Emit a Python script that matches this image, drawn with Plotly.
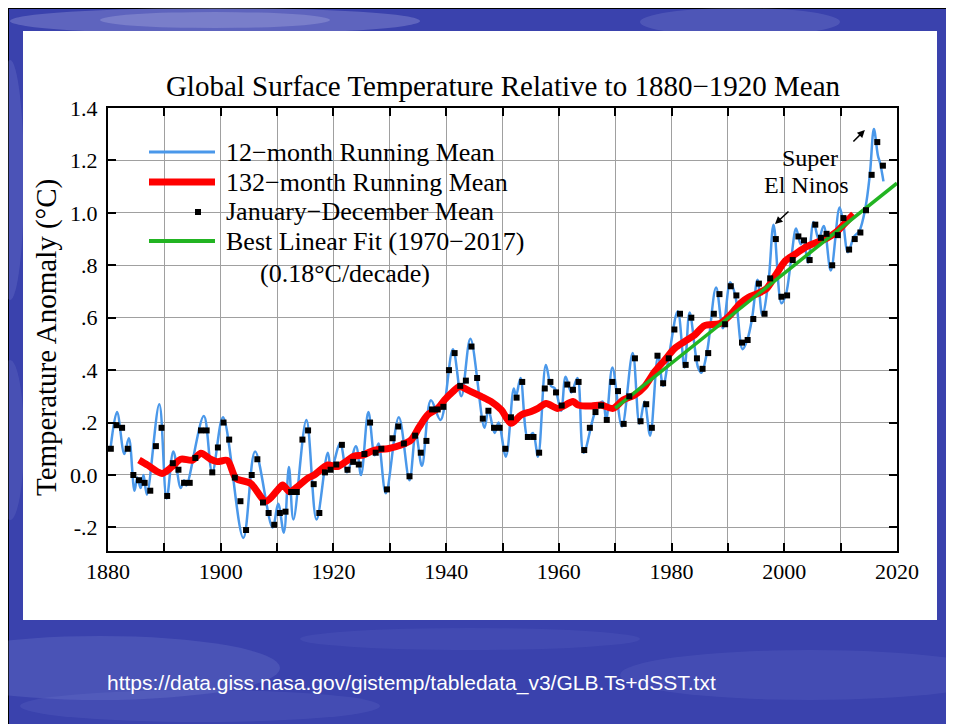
import plotly.graph_objects as go

# ---------------- data ----------------
years = list(range(1880, 2018))
annual_mean = [
    0.10, 0.19, 0.18, 0.10, 0.00, -0.02, -0.03, -0.06, 0.11, 0.18,      # 1880-1889
    -0.08, 0.045, 0.02, -0.03, -0.03, 0.065, 0.17, 0.17, 0.01, 0.105,   # 1890-1899
    0.20, 0.135, -0.01, -0.10, -0.21, 0.00, 0.06, -0.105, -0.145, -0.19,  # 1900-1909
    -0.145, -0.14, -0.065, -0.065, 0.135, 0.17, -0.035, -0.145, 0.01, 0.02,  # 1910-1919
    0.04, 0.115, 0.02, 0.05, 0.04, 0.08, 0.20, 0.085, 0.10, -0.055,     # 1920-1929
    0.14, 0.185, 0.12, -0.005, 0.15, 0.085, 0.13, 0.25, 0.25, 0.26,     # 1930-1939
    0.40, 0.465, 0.34, 0.36, 0.49, 0.37, 0.215, 0.245, 0.18, 0.18,      # 1940-1949
    0.10, 0.22, 0.295, 0.355, 0.145, 0.145, 0.085, 0.33, 0.355, 0.315,  # 1950-1959
    0.265, 0.345, 0.325, 0.355, 0.095, 0.18, 0.24, 0.265, 0.21, 0.355,  # 1960-1969
    0.32, 0.195, 0.30, 0.445, 0.205, 0.27, 0.18, 0.455, 0.35, 0.445,    # 1970-1979
    0.555, 0.615, 0.42, 0.60, 0.445, 0.405, 0.465, 0.615, 0.69, 0.575,  # 1980-1989
    0.72, 0.685, 0.505, 0.515, 0.595, 0.73, 0.615, 0.75, 0.90, 0.68,    # 1990-1999
    0.685, 0.82, 0.91, 0.895, 0.82, 0.955, 0.905, 0.92, 0.80, 0.915,    # 2000-2009
    0.98, 0.86, 0.90, 0.925, 1.01, 1.145, 1.27, 1.18,                   # 2010-2017
]

# 12-month running mean: turning points
run12_t = [
    1880.5, 1881.6, 1882.9, 1883.7, 1884.7, 1885.2, 1885.8, 1886.3, 1886.9, 1889.1,
    1890.4, 1891.6, 1892.9, 1893.5, 1893.9, 1897.0, 1898.5, 1900.4, 1904.0, 1906.1,
    1909.2, 1910.2, 1911.2, 1912.1, 1912.9, 1915.2, 1917.0, 1919.0, 1919.6, 1921.2,
    1922.4, 1924.0, 1924.9, 1926.2, 1927.3, 1928.0, 1929.3, 1931.6, 1933.5, 1934.6,
    1935.7, 1937.3, 1939.0, 1941.2, 1942.7, 1944.3, 1946.8, 1947.5, 1948.6, 1949.3,
    1950.6, 1952.0, 1952.4, 1953.2, 1954.5, 1955.4, 1956.3, 1957.7, 1958.6, 1959.3,
    1960.4, 1961.2, 1962.2, 1963.3, 1964.4, 1966.6, 1967.8, 1968.4, 1969.5, 1971.2,
    1973.1, 1974.3, 1975.2, 1976.2, 1977.6, 1978.5, 1979.5, 1981.1, 1982.3, 1983.2,
    1984.7, 1985.3, 1986.3, 1987.9, 1989.1, 1990.4, 1991.3, 1992.6, 1993.5, 1994.3,
    1995.25, 1996.1, 1997.2, 1998.1, 1999.5, 2000.3, 2001.2, 2002.1, 2002.9, 2003.4,
    2004.2, 2005.2, 2006.1, 2007.0, 2008.25, 2009.8, 2010.4, 2011.3, 2012.4, 2013.3,
    2014.4, 2015.2, 2015.9, 2016.6, 2017.0, 2017.6,
]
run12_v = [
    0.11, 0.24, 0.08, 0.14, -0.06, -0.01, -0.05, 0.00, -0.075, 0.27,
    -0.09, 0.09, -0.05, -0.02, -0.04, 0.225, 0.01, 0.22, -0.24, 0.09,
    -0.20, -0.11, -0.22, 0.03, -0.17, 0.21, -0.17, 0.085, 0.02, 0.12,
    0.01, 0.11, 0.00, 0.24, 0.075, 0.12, -0.07, 0.22, -0.02, 0.16,
    0.035, 0.285, 0.21, 0.48, 0.30, 0.52, 0.18, 0.25, 0.16, 0.20,
    0.07, 0.33, 0.30, 0.37, 0.14, 0.16, 0.07, 0.42, 0.34, 0.33,
    0.245, 0.375, 0.315, 0.37, 0.085, 0.25, 0.28, 0.21, 0.41, 0.185,
    0.465, 0.195, 0.28, 0.15, 0.455, 0.34, 0.45, 0.625, 0.41, 0.62,
    0.41, 0.39, 0.47, 0.715, 0.56, 0.735, 0.685, 0.48, 0.52, 0.60,
    0.745, 0.61, 0.74, 0.955, 0.655, 0.69, 0.82, 0.94, 0.88, 0.90,
    0.81, 0.965, 0.90, 0.95, 0.78, 1.02, 0.97, 0.85, 0.91, 0.93,
    1.02, 1.15, 1.32, 1.22, 1.19, 1.12,
]

# 132-month running mean (red)
run132_t = [
    1885.5, 1887.0, 1889.6, 1891.4, 1892.9, 1895.0, 1896.5, 1898.2, 1899.4, 1901.2,
    1902.7, 1905.3, 1908.0, 1910.1, 1911.0, 1912.2, 1913.6, 1915.4, 1916.6, 1919.0,
    1920.7, 1922.2, 1923.7, 1925.2, 1927.3, 1929.6, 1932.0, 1933.8, 1935.25, 1936.7,
    1938.5, 1939.7, 1941.2, 1942.35, 1944.4, 1946.2, 1948.0, 1949.8, 1951.5, 1953.3,
    1955.1, 1956.3, 1957.75, 1959.8, 1962.5, 1963.4, 1965.75, 1967.5, 1969.6, 1971.4,
    1973.45, 1975.2, 1977.0, 1978.8, 1980.55, 1982.3, 1984.1, 1985.85, 1988.6, 1990.4,
    1992.2, 1993.6, 1995.35, 1996.8, 1998.6, 2000.2, 2001.9, 2003.95, 2005.7, 2007.5,
    2009.3, 2011.05, 2012.3,
]
run132_v = [
    0.057, 0.038, 0.006, 0.032, 0.060, 0.057, 0.083, 0.060, 0.051, 0.055,
    -0.013, -0.032, -0.100, -0.057, -0.038, -0.064, -0.045, -0.013, 0.000, 0.038,
    0.032, 0.051, 0.072, 0.076, 0.095, 0.100, 0.114, 0.134, 0.184, 0.229,
    0.254, 0.286, 0.318, 0.337, 0.318, 0.300, 0.280, 0.248, 0.197, 0.229,
    0.242, 0.254, 0.273, 0.254, 0.280, 0.267, 0.263, 0.267, 0.254, 0.286,
    0.305, 0.337, 0.394, 0.439, 0.483, 0.509, 0.534, 0.570, 0.578, 0.610,
    0.655, 0.677, 0.693, 0.710, 0.767, 0.817, 0.842, 0.871, 0.887, 0.903,
    0.928, 0.967, 0.995,
]

# best linear fit (1970-2017), drawn out to 2020
fit_t = [1970, 2020]
fit_v = [0.255, 1.113]

x_tickvals = list(range(1880, 2021, 10))
x_ticktext = [str(v) if v % 20 == 0 else "" for v in x_tickvals]
y_tickvals = [-0.2, 0.0, 0.2, 0.4, 0.6, 0.8, 1.0, 1.2, 1.4]
y_ticktext = ["-.2", "0.0", ".2", ".4", ".6", ".8", "1.0", "1.2", "1.4"]

legend_labels = ["12\u2212month Running Mean", "132\u2212month Running Mean",
                 "January\u2212December Mean", "Best Linear Fit (1970\u22122017)"]
legend_note = "(0.18\u00b0C/decade)"

# ---------------- styling / geometry ----------------
# The page body has an 8px margin, so the figure is drawn 8px in from the
# window corner; all screen positions below are converted with that offset.
OFF = 8
W, H = 954 - OFF, 724 - OFF
L, R, T, B = 108, 897, 108, 551          # plot area in screen pixels
SERIF = "Liberation Serif, Times New Roman, serif"
BLUE, RED, GREEN = "#4a98ea", "#ff0000", "#22b422"


def px(x):
    return (x - L) / (R - L)


def py(y):
    return (B - y) / (B - T)


fig = go.Figure()
fig.add_trace(go.Scatter(x=run12_t, y=run12_v, mode="lines", name=legend_labels[0],
                         line=dict(color=BLUE, width=2.5, shape="spline", smoothing=1.0)))
fig.add_trace(go.Scatter(x=run132_t, y=run132_v, mode="lines", name=legend_labels[1],
                         line=dict(color=RED, width=7, shape="spline", smoothing=0.8)))
fig.add_trace(go.Scatter(x=fit_t, y=fit_v, mode="lines", name=legend_labels[3],
                         line=dict(color=GREEN, width=3.5)))
fig.add_trace(go.Scatter(x=[y + 0.5 for y in years], y=annual_mean, mode="markers",
                         name=legend_labels[2],
                         marker=dict(symbol="square", size=6, color="black")))

shapes = []
# slide background (blue, black frame at top/left)
shapes.append(dict(type="rect", xref="paper", yref="paper", layer="below",
                   x0=px(OFF), y0=py(OFF), x1=px(990), y1=py(760),
                   fillcolor="#3a42ad", line=dict(color="black", width=2)))
# soft lighter streaks of the textured background
streaks = [
    (10, 8, 420, 34, "rgba(190,190,235,0.28)"),
    (100, 12, 330, 28, "rgba(220,220,245,0.22)"),
    (640, 8, 840, 36, "rgba(170,175,235,0.18)"),
    (-80, 636, 280, 700, "rgba(150,160,230,0.18)"),
    (20, 690, 380, 722, "rgba(140,150,225,0.13)"),
    (620, 650, 1000, 700, "rgba(140,150,225,0.13)"),
    (300, 628, 640, 650, "rgba(140,150,225,0.10)"),
    (-4, 60, 24, 300, "rgba(170,175,235,0.16)"),
    (-4, 360, 24, 520, "rgba(170,175,235,0.13)"),
]
for x0, y0, x1, y1, c in streaks:
    shapes.append(dict(type="circle", xref="paper", yref="paper", layer="below",
                       x0=px(x0), y0=py(y0), x1=px(x1), y1=py(y1),
                       fillcolor=c, line=dict(width=0)))
# white chart panel
shapes.append(dict(type="rect", xref="paper", yref="paper", layer="below",
                   x0=px(23), y0=py(31), x1=px(937), y1=py(620),
                   fillcolor="white", line=dict(width=0)))

# manual legend samples
LX0, LX1 = 149, 215
rows = [152, 182, 212, 241]
shapes.append(dict(type="line", xref="paper", yref="paper", x0=px(LX0), x1=px(LX1),
                   y0=py(rows[0]), y1=py(rows[0]), line=dict(color=BLUE, width=3)))
shapes.append(dict(type="line", xref="paper", yref="paper", x0=px(LX0), x1=px(LX1),
                   y0=py(rows[1]), y1=py(rows[1]), line=dict(color=RED, width=7)))
shapes.append(dict(type="rect", xref="paper", yref="paper", x0=px(195), x1=px(201),
                   y0=py(rows[2] - 3), y1=py(rows[2] + 3), fillcolor="black",
                   line=dict(width=0)))
shapes.append(dict(type="line", xref="paper", yref="paper", x0=px(LX0), x1=px(LX1),
                   y0=py(rows[3]), y1=py(rows[3]), line=dict(color=GREEN, width=4)))

annotations = []
for lab, ry in zip(legend_labels, rows):
    annotations.append(dict(xref="paper", yref="paper", x=px(224), y=py(ry),
                            xanchor="left", yanchor="middle", showarrow=False, text=lab,
                            font=dict(family=SERIF, size=26, color="black")))
annotations.append(dict(xref="paper", yref="paper", x=px(258), y=py(273),
                        xanchor="left", yanchor="middle", showarrow=False, text=legend_note,
                        font=dict(family=SERIF, size=26, color="black")))
# Super El Ninos note
annotations.append(dict(xref="paper", yref="paper", x=px(810), y=py(158),
                        xanchor="center", yanchor="middle", showarrow=False,
                        text="Super", font=dict(family=SERIF, size=24, color="black")))
annotations.append(dict(xref="paper", yref="paper", x=px(806), y=py(185),
                        xanchor="center", yanchor="middle", showarrow=False,
                        text="El Ninos", font=dict(family=SERIF, size=24, color="black")))
annotations.append(dict(x=1998.35, y=0.957, xref="x", yref="y", text="", showarrow=True,
                        ax=15, ay=-14, arrowhead=2, arrowsize=1, arrowwidth=1.5,
                        arrowcolor="black"))
annotations.append(dict(x=2014.3, y=1.316, xref="x", yref="y", text="", showarrow=True,
                        ax=-13, ay=13, arrowhead=2, arrowsize=1, arrowwidth=1.5,
                        arrowcolor="black"))
# y-axis title
annotations.append(dict(xref="paper", yref="paper", x=px(46), y=py(338),
                        xanchor="center", yanchor="middle", showarrow=False,
                        textangle=-90, text="Temperature Anomaly (\u00b0C)",
                        font=dict(family=SERIF, size=29, color="black")))
# source URL
annotations.append(dict(xref="paper", yref="paper", x=px(105), y=py(683), xanchor="left",
                        yanchor="middle", showarrow=False,
                        text="https://data.giss.nasa.gov/gistemp/tabledata_v3/GLB.Ts+dSST.txt",
                        font=dict(family="Liberation Sans, Arial, sans-serif", size=21,
                                  color="white")))

axis_common = dict(showgrid=True, gridcolor="#a0a0a0", gridwidth=1, zeroline=False,
                   showline=True, linecolor="black", linewidth=2, mirror="ticks",
                   ticks="inside", ticklen=8, tickwidth=1.5, tickcolor="black",
                   tickfont=dict(family=SERIF, size=22, color="black"))

fig.update_layout(
    width=W, height=H, autosize=False,
    margin=dict(l=L - OFF, r=W - (R - OFF), t=T - OFF, b=H - (B - OFF), pad=0),
    paper_bgcolor="white", plot_bgcolor="white",
    showlegend=False,
    title=dict(text="Global Surface Temperature Relative to 1880\u22121920 Mean",
               x=(503 - OFF) / W, xanchor="center", y=1 - (86 - OFF) / H, yanchor="middle",
               font=dict(family=SERIF, size=29, color="black")),
    xaxis=dict(range=[1880, 2020], tickvals=x_tickvals, ticktext=x_ticktext,
               ticklabelstandoff=0, **axis_common),
    yaxis=dict(range=[-0.29, 1.4], tickvals=y_tickvals, ticktext=y_ticktext,
               ticklabelstandoff=4, **axis_common),
    shapes=shapes,
    annotations=annotations,
)

fig.write_html("out.html")
